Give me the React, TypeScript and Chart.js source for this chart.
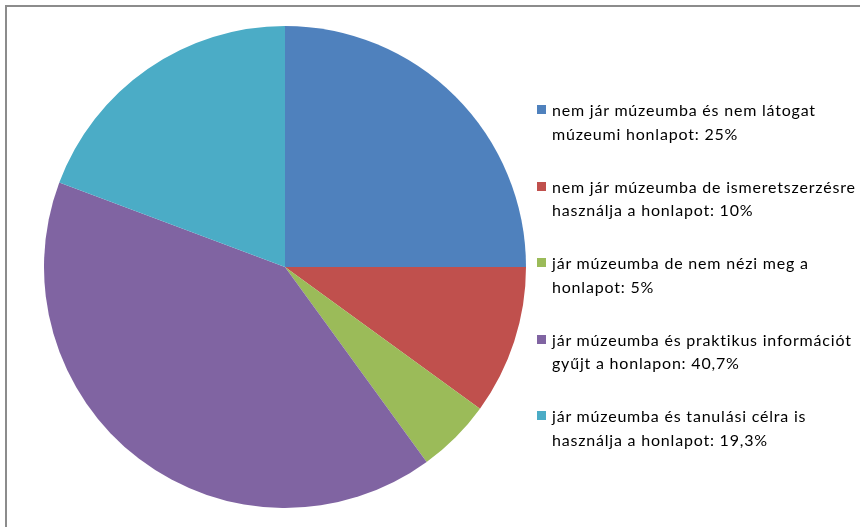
import React, { useEffect, useRef } from "react";
import { Chart, registerables } from "chart.js";

Chart.register(...registerables);

const categories: string[][] = [
  ["nem jár múzeumba és nem látogat", "múzeumi honlapot: 25%"],
  ["nem jár múzeumba de ismeretszerzésre", "használja a honlapot: 10%"],
  ["jár múzeumba de nem nézi meg a", "honlapot: 5%"],
  ["jár múzeumba és praktikus információt", "gyűjt a honlapon: 40,7%"],
  ["jár múzeumba és tanulási célra is", "használja a honlapot: 19,3%"],
];
const values: number[] = [25, 10, 5, 40.7, 19.3];
const colors: string[] = ["#4F81BD", "#C0504D", "#9BBB59", "#8064A2", "#4BACC6"];

const FONT = "Lato, 'Open Sans', sans-serif";

export default function App() {
  const ref = useRef<HTMLCanvasElement | null>(null);

  useEffect(() => {
    if (!ref.current) return;
    const chart = new Chart(ref.current, {
      type: "pie",
      data: {
        labels: categories.map((c) => c.join(" ")),
        datasets: [
          {
            data: values,
            backgroundColor: colors,
            borderWidth: 0,
          },
        ],
      },
      options: {
        animation: false,
        responsive: false,
        maintainAspectRatio: false,
        layout: { padding: { left: 44, right: 334, top: 26, bottom: 19 } },
        plugins: {
          legend: { display: false },
          tooltip: { enabled: false },
        },
      },
    });
    return () => chart.destroy();
  }, []);

  return (
    <div
      style={{
        position: "fixed",
        left: 0,
        top: 0,
        width: 860,
        height: 527,
        background: "#fff",
        overflow: "hidden",
      }}
    >
      <div
        style={{
          position: "absolute",
          left: 5,
          top: 5,
          width: 900,
          height: 600,
          border: "2px solid #8c8c8c",
          boxSizing: "border-box",
        }}
      />
      <canvas
        ref={ref}
        width={860}
        height={527}
        style={{ position: "absolute", left: 0, top: 0, width: 860, height: 527 }}
      />
      {categories.map((lines, i) => (
        <div
          key={i}
          style={{
            position: "absolute",
            left: 537,
            top: 98 + i * 76.5,
            fontFamily: FONT,
            fontSize: 16,
            letterSpacing: "0.8px",
            lineHeight: "23.5px",
            color: "#000",
            whiteSpace: "nowrap",
          }}
        >
          <span
            style={{
              position: "absolute",
              left: 0,
              top: 7,
              width: 9,
              height: 9,
              background: colors[i],
            }}
          />
          {lines.map((l, j) => (
            <div key={j} style={{ paddingLeft: 15 }}>
              {l}
            </div>
          ))}
        </div>
      ))}
    </div>
  );
}
